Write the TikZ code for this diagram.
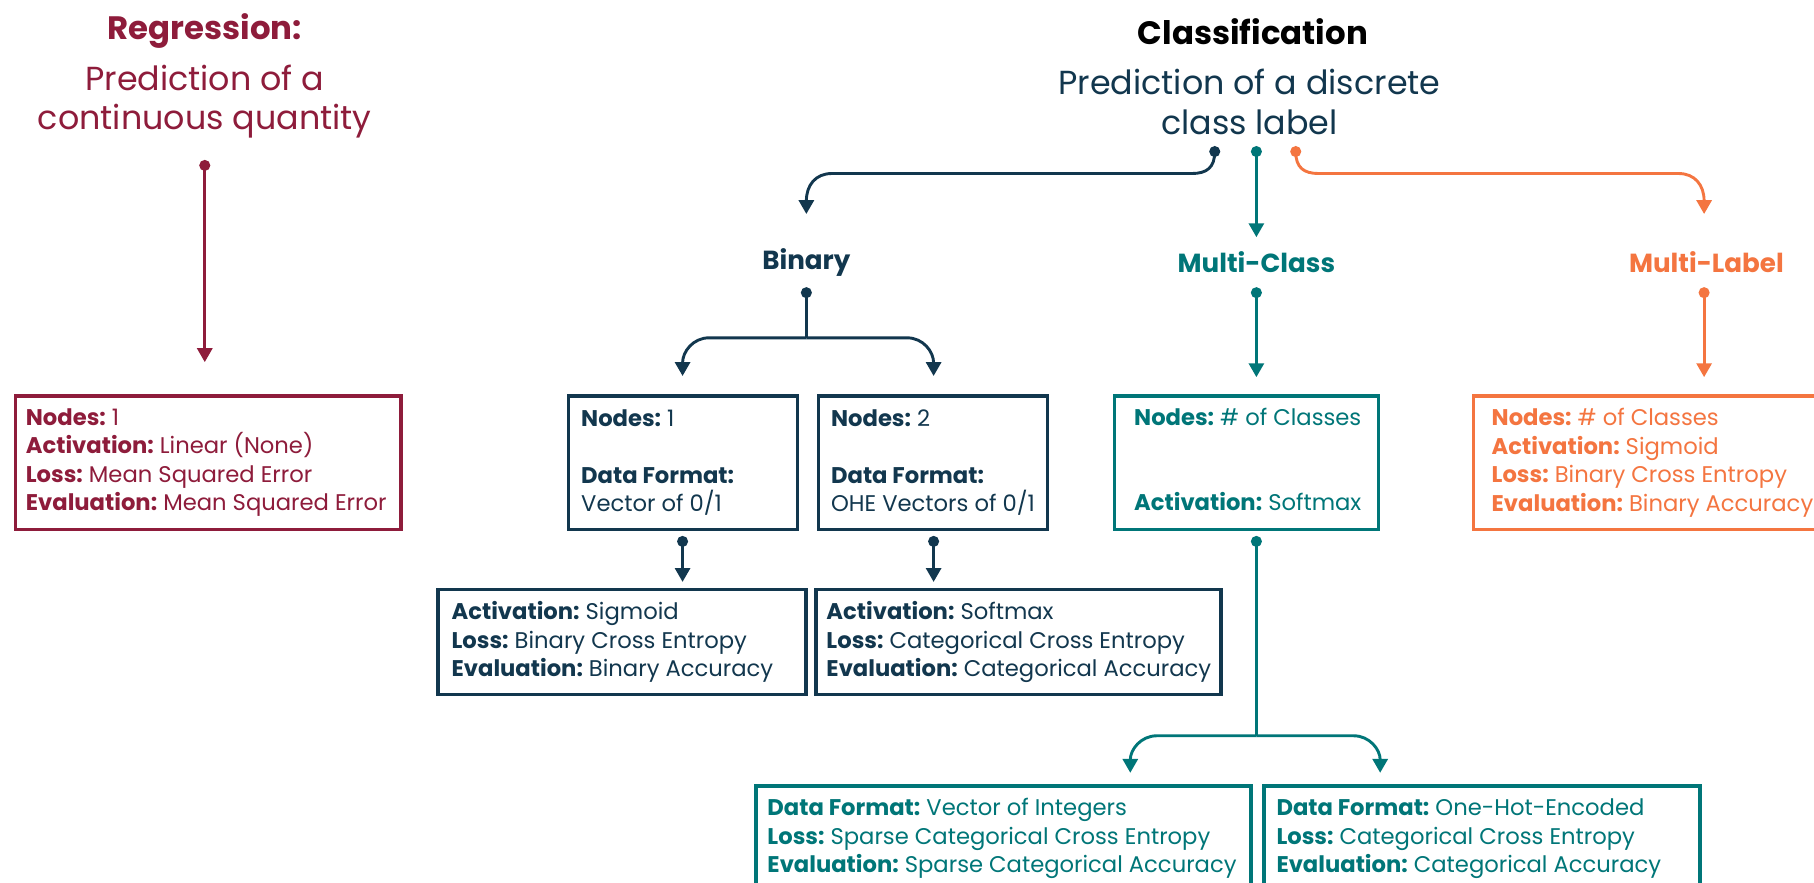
\documentclass[tikz,border=0pt]{standalone}
\usepackage{fontspec}
\setmainfont{Poppins}
\usetikzlibrary{arrows.meta}
\definecolor{regred}{HTML}{8E1C3B}
\definecolor{navy}{HTML}{12374E}
\definecolor{teal}{HTML}{007678}
\definecolor{orange}{HTML}{F47540}
\frenchspacing
\begin{document}
\begin{tikzpicture}[x=0.5pt,y=-0.5pt,
  box/.style={draw, line width=1.5pt, anchor=north west, inner sep=0pt},
  txt/.style={anchor=west, align=left, inner sep=0pt,
    font=\fontsize{9.8}{12.3}\selectfont},
  line/.style={line width=1.25pt},
  arr/.style={line width=1.25pt, -{Triangle[length=6pt,width=6.5pt]}},
  title/.style={font=\bfseries\fontsize{14}{17}\selectfont},
  sub/.style={font=\fontsize{14.4}{17}\selectfont, align=center},
  head/.style={font=\bfseries\fontsize{11.3}{14}\selectfont},
]
\fill[white] (0,0) rectangle (1568,763);
\clip (0,0) rectangle (1568,763);

% ---------- Regression ----------
\node[title, regred] (regT) at (177,27) {Regression:};
\node[sub, regred] (regSub) at (177,88) {Prediction of a\\continuous quantity};
\coordinate (regS) at (177,143);
\coordinate (regE) at (177,313);
\fill[regred] (regS) circle (2.4pt);
\draw[arr, regred] (regS) -- (regE);
\node[box, regred, minimum width=166.5pt, minimum height=57.5pt] (reg) at (12,341) {};
\node[txt, regred] (regX) at ([xshift=5pt]reg.west)
  {\textbf{Nodes:} 1\\\textbf{Activation:} Linear (None)\\\textbf{Loss:} Mean Squared Error\\\textbf{Evaluation:} Mean Squared Error};

% ---------- Classification ----------
\node[title, black] (clsT) at (1083,27) {Classification};
\node[sub, navy] (clsSub) at (1080,88) {Prediction of a discrete\\class label};
\coordinate (cN) at (1050,131);
\coordinate (cT) at (1086,131);
\coordinate (cO) at (1120,131);
\coordinate (binE) at (697,185);
\coordinate (mcE) at (1086,205);
\coordinate (mlE) at (1473,185);
\fill[navy] (cN) circle (2.4pt);
\fill[teal] (cT) circle (2.4pt);
\fill[orange] (cO) circle (2.4pt);
\draw[arr, navy] (cN) .. controls (1050,145) and (1043,150) .. (1030,150) -- (719,150)
  .. controls (705,150) and (697,160) .. (binE);
\draw[arr, teal] (cT) -- (mcE);
\draw[arr, orange] (cO) .. controls (1120,145) and (1127,150) .. (1140,150) -- (1451,150)
  .. controls (1465,150) and (1473,160) .. (mlE);

\node[head, navy] (bin) at (697,227) {Binary};
\node[head, teal] (mc) at (1086,227) {Multi-Class};
\node[head, orange] (ml) at (1475,227) {Multi-Label};

% ---------- Binary ----------
\coordinate (binS) at (697,253);
\coordinate (binJ) at (697,292);
\coordinate (binL) at (590,325);
\coordinate (binR) at (807,325);
\fill[navy] (binS) circle (2.4pt);
\draw[line, navy] (binS) -- (binJ);
\draw[arr, navy] (binJ) -- (613,292) .. controls (599,292) and (590,304) .. (binL);
\draw[arr, navy] (binJ) -- (784,292) .. controls (798,292) and (807,304) .. (binR);

\node[box, navy, minimum width=99pt, minimum height=57.5pt] (b1) at (490,341) {};
\node[txt, navy] (b1X) at ([xshift=6pt]b1.west)
  {\textbf{Nodes:} 1\\[12.3pt]\textbf{Data Format:}\\Vector of 0/1};
\node[box, navy, minimum width=99pt, minimum height=57.5pt] (b2) at (706,341) {};
\node[txt, navy] (b2X) at ([xshift=6pt]b2.west)
  {\textbf{Nodes:} 2\\[12.3pt]\textbf{Data Format:}\\OHE Vectors of 0/1};

\coordinate (b1S) at (590,468);
\coordinate (b1E) at (590,503);
\coordinate (b2S) at (807,468);
\coordinate (b2E) at (807,503);
\fill[navy] (b1S) circle (2.4pt);
\fill[navy] (b2S) circle (2.4pt);
\draw[arr, navy] (b1S) -- (b1E);
\draw[arr, navy] (b2S) -- (b2E);

\node[box, navy, minimum width=159pt, minimum height=45.5pt] (b1x) at (377,508) {};
\node[txt, navy] (b1xX) at ([xshift=6.5pt]b1x.west)
  {\textbf{Activation:} Sigmoid\\\textbf{Loss:} Binary Cross Entropy\\\textbf{Evaluation:} Binary Accuracy};
\node[box, navy, minimum width=175pt, minimum height=45.5pt] (b2x) at (704,508) {};
\node[txt, navy] (b2xX) at ([xshift=5pt]b2x.west)
  {\textbf{Activation:} Softmax\\\textbf{Loss:} Categorical Cross Entropy\\\textbf{Evaluation:} Categorical Accuracy};

% ---------- Multi-Class ----------
\coordinate (mcS) at (1086,253);
\coordinate (mcE2) at (1086,326);
\fill[teal] (mcS) circle (2.4pt);
\draw[arr, teal] (mcS) -- (mcE2);
\node[box, teal, minimum width=114pt, minimum height=57.5pt] (m1) at (962,341) {};
\node[txt, teal] (m1X) at ([xshift=9pt,yshift=1.5pt]m1.west)
  {\textbf{Nodes:} \# of Classes\\[24.2pt]\textbf{Activation:} Softmax};

\coordinate (m1S) at (1086,468);
\coordinate (m1J) at (1086,636);
\coordinate (m1L) at (977,668);
\coordinate (m1R) at (1193,668);
\fill[teal] (m1S) circle (2.4pt);
\draw[line, teal] (m1S) -- (m1J);
\draw[arr, teal] (m1J) -- (1000,636) .. controls (986,636) and (977,648) .. (m1L);
\draw[arr, teal] (m1J) -- (1170,636) .. controls (1184,636) and (1193,648) .. (m1R);

\node[box, teal, minimum width=214pt, minimum height=45.5pt] (m2) at (652,678) {};
\node[txt, teal] (m2X) at ([xshift=5.5pt]m2.west)
  {\textbf{Data Format:} Vector of Integers\\\textbf{Loss:} Sparse Categorical Cross Entropy\\\textbf{Evaluation:} Sparse Categorical Accuracy};
\node[box, teal, minimum width=188.5pt, minimum height=45.5pt] (m3) at (1091,678) {};
\node[txt, teal] (m3X) at ([xshift=6pt]m3.west)
  {\textbf{Data Format:} One-Hot-Encoded\\\textbf{Loss:} Categorical Cross Entropy\\\textbf{Evaluation:} Categorical Accuracy};

% ---------- Multi-Label ----------
\coordinate (mlS) at (1473,253);
\coordinate (mlE2) at (1473,326);
\fill[orange] (mlS) circle (2.4pt);
\draw[arr, orange] (mlS) -- (mlE2);
\node[box, orange, minimum width=165pt, minimum height=57.5pt] (l1) at (1272,341) {};
\node[txt, orange] (l1X) at ([xshift=8.5pt]l1.west)
  {\textbf{Nodes:} \# of Classes\\\textbf{Activation:} Sigmoid\\\textbf{Loss:} Binary Cross Entropy\\\textbf{Evaluation:} Binary Accuracy};
\end{tikzpicture}
\end{document}
